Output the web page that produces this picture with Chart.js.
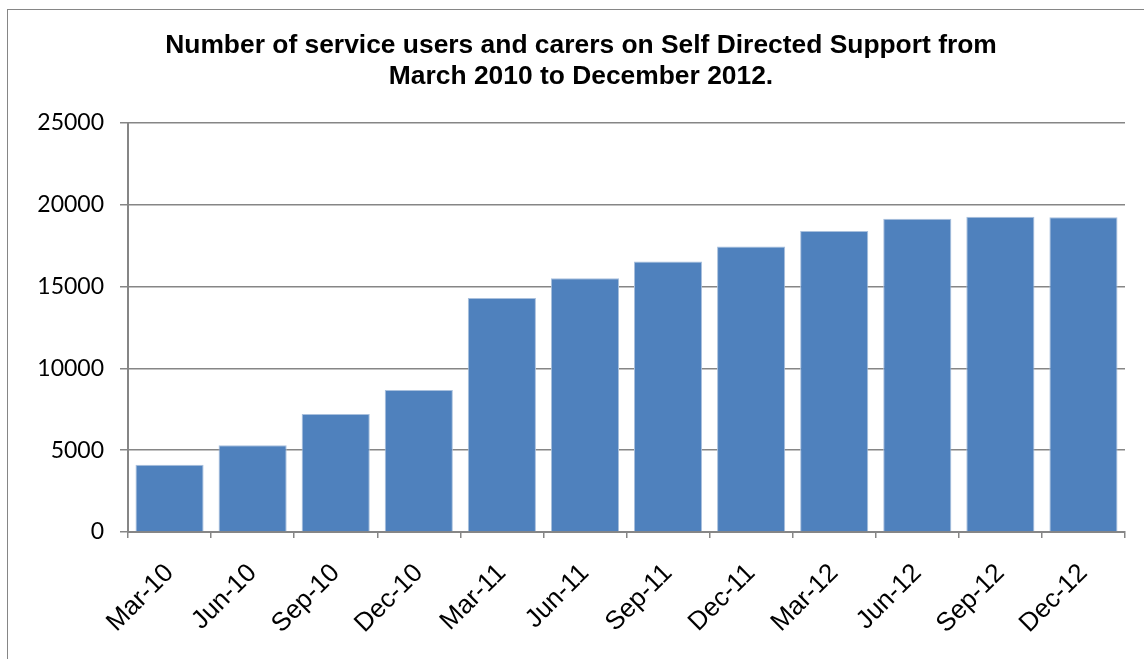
<!DOCTYPE html>
<html>
<head>
<meta charset="utf-8">
<script src="https://cdn.jsdelivr.net/npm/chart.js@4"></script>
<style>
  html, body { margin: 0; padding: 0; background: #fff; overflow: hidden; }
  #frame {
    position: absolute; left: 7px; top: 9px; width: 1200px; height: 700px;
    border: 1.5px solid #868686; box-sizing: border-box;
  }
  #wrap { position: absolute; left: 0; top: 0; width: 1144px; height: 659px; }
</style>
</head>
<body>
<div id="frame"></div>
<div id="wrap"><canvas id="chart"></canvas></div>
<script>
// categories and values
const quarters = ["Mar-10", "Jun-10", "Sep-10", "Dec-10", "Mar-11", "Jun-11",
  "Sep-11", "Dec-11", "Mar-12", "Jun-12", "Sep-12", "Dec-12"];
const usersOnSDS = [4110, 5300, 7210, 8680, 14300, 15500,
  16520, 17440, 18380, 19130, 19250, 19230];
const yTicks = [0, 5000, 10000, 15000, 20000, 25000];

const titleLines = [
  "Number of service users and carers on Self Directed Support from",
  "March 2010 to December 2012."
];

const gridGrey = "#868686";

new Chart(document.getElementById("chart"), {
  type: "bar",
  data: {
    labels: quarters,
    datasets: [{
      label: "Service users and carers",
      data: usersOnSDS,
      backgroundColor: "#4f81bd",
      borderColor: "#a9c0dd",
      borderWidth: 1,
      barPercentage: 0.82,
      categoryPercentage: 1,
    }],
  },
  options: {
    responsive: true,
    maintainAspectRatio: false,
    animation: false,
    // left padding keeps the title centred on the whole frame, like the original
    layout: { padding: { left: 37, right: 19, top: 0, bottom: 0 } },
    plugins: {
      legend: { display: false },
      tooltip: { enabled: false },
      title: {
        display: true,
        text: titleLines,
        color: "#000",
        font: { family: "'Liberation Sans', Arial, sans-serif", size: 26.4, weight: "bold", lineHeight: 1.15 },
        padding: { top: 31, bottom: 31 },
      },
    },
    scales: {
      x: {
        grid: { drawOnChartArea: false, drawTicks: true, tickLength: 6, color: gridGrey, lineWidth: 1.5 },
        border: { display: true, color: gridGrey, width: 2 },
        ticks: {
          color: "#000",
          minRotation: 45,
          maxRotation: 45,
          padding: 20,
          font: { family: "'Liberation Sans', Arial, sans-serif", size: 26 },
        },
        afterFit: (scale) => { scale.height = 127; },
      },
      y: {
        min: 0,
        max: 25000,
        afterBuildTicks: (scale) => { scale.ticks = yTicks.map((v) => ({ value: v })); },
        grid: { color: gridGrey, lineWidth: 1.5, tickLength: 8 },
        border: { display: true, color: gridGrey, width: 2 },
        ticks: {
          color: "#000",
          padding: 16,
          callback: (v) => String(v),
          font: { family: "Lato, 'Open Sans', sans-serif", size: 23 },
        },
        afterFit: (scale) => { scale.width = 91; },
      },
    },
  },
});
</script>
</body>
</html>
